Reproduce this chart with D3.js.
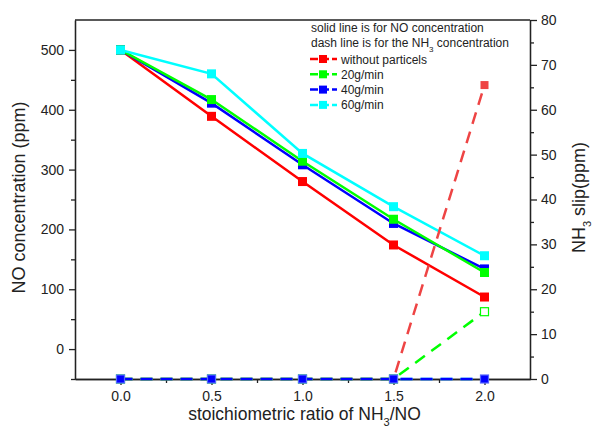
<!DOCTYPE html>
<html>
<head>
<meta charset="utf-8">
<script src="https://cdn.jsdelivr.net/npm/d3@7"></script>
<style>
  body { margin: 0; background: #fff; }
  svg text { font-family: "Liberation Sans", Arial, sans-serif; fill: #222; }
  .axis path, .axis line { stroke: #222; stroke-width: 1.3; }
</style>
</head>
<body>
<div id="chart"></div>
<script>
// stoichiometric ratios on the x axis
var ratios = [0, 0.5, 1.0, 1.5, 2.0];
var seriesNames = ["without particels", "20g/min", "40g/min", "60g/min"];
var seriesColors = ["#ff0000", "#00ff00", "#0000ff", "#00ffff"];

// NO concentration (ppm), solid lines
var noWithout = [500, 389, 280, 174, 87];
var no20 = [500, 417, 314, 217, 128];
var no40 = [500, 411, 308, 210, 134];
var no60 = [500, 460, 327, 238, 156];

// NH3 slip (ppm), dashed lines
var nh3Without = [0, 0, 0, 0, 65.5];
var nh320 = [0, 0, 0, 0, 15];
var nh340 = [0, 0, 0, 0, 0];
var nh360 = [0, 0, 0, 0, 0];

var xTicks = [0, 0.5, 1.0, 1.5, 2.0];
var leftTicks = [0, 100, 200, 300, 400, 500];
var rightTicks = [0, 10, 20, 30, 40, 50, 60, 70, 80];

var svgWidth = 594, svgHeight = 429;
var margin = {top: 20, right: 64, bottom: 50, left: 75};
var width = svgWidth - margin.left - margin.right;
var height = svgHeight - margin.top - margin.bottom;

var svg = d3.select("#chart").append("svg")
    .attr("width", svgWidth)
    .attr("height", svgHeight);

var g = svg.append("g")
    .attr("transform", `translate(${margin.left}, ${margin.top})`);

var x = d3.scaleLinear().domain([-0.25, 2.25]).range([0, width]);
var yLeft = d3.scaleLinear().domain([-50, 550]).range([height, 0]);
var yRight = d3.scaleLinear().domain([0, 80]).range([height, 0]);

// minor ticks first
g.append("g").attr("class", "axis")
    .attr("transform", `translate(0, ${height})`)
    .call(d3.axisBottom(x).tickValues([0.25, 0.75, 1.25, 1.75]).tickSize(4).tickSizeOuter(0).tickFormat(""));
g.append("g").attr("class", "axis")
    .call(d3.axisLeft(yLeft).tickValues([-50, 50, 150, 250, 350, 450]).tickSize(4).tickSizeOuter(0).tickFormat(""));
g.append("g").attr("class", "axis")
    .attr("transform", `translate(${width}, 0)`)
    .call(d3.axisRight(yRight).tickValues(d3.range(5, 80, 10)).tickSize(4).tickSizeOuter(0).tickFormat(""));

// major ticks
var xAxis = g.append("g").attr("class", "axis")
    .attr("transform", `translate(0, ${height})`)
    .call(d3.axisBottom(x).tickValues(xTicks).tickSize(6).tickSizeOuter(0).tickPadding(6).tickFormat(d3.format(".1f")));
var leftAxis = g.append("g").attr("class", "axis")
    .call(d3.axisLeft(yLeft).tickValues(leftTicks).tickSize(6).tickSizeOuter(0).tickPadding(5));
var rightAxis = g.append("g").attr("class", "axis")
    .attr("transform", `translate(${width}, 0)`)
    .call(d3.axisRight(yRight).tickValues(rightTicks).tickSize(7).tickSizeOuter(0).tickPadding(4));
g.selectAll(".axis text").style("font-size", "14px");

// top frame line
g.append("line")
    .attr("x1", 0).attr("x2", width).attr("y1", 0).attr("y2", 0)
    .attr("stroke", "#222").attr("stroke-width", 1.3);

// axis titles
svg.append("text")
    .attr("x", margin.left + width / 2 + 2)
    .attr("y", 420)
    .attr("text-anchor", "middle")
    .style("font-size", "17.5px")
    .html('stoichiometric ratio of NH<tspan baseline-shift="sub" font-size="11px">3</tspan>/NO');

svg.append("text")
    .attr("transform", `translate(25, ${margin.top + height / 2 - 2}) rotate(-90)`)
    .attr("text-anchor", "middle")
    .style("font-size", "18px")
    .text("NO concentration (ppm)");

svg.append("text")
    .attr("transform", `translate(585, ${margin.top + height / 2 - 2}) rotate(-90)`)
    .attr("text-anchor", "middle")
    .style("font-size", "18px")
    .html('NH<tspan baseline-shift="sub" font-size="11px">3</tspan> slip(ppm)');

var noSeries = [noWithout, no20, no40, no60];
var nh3Series = [nh3Without, nh320, nh340, nh360];

var lineLeft = d3.line().x((d, i) => x(ratios[i])).y(d => yLeft(d));
var lineRight = d3.line().x((d, i) => x(ratios[i])).y(d => yRight(d));

// solid NO lines, drawn red, blue, green, cyan
var drawOrder = [0, 2, 1, 3];
drawOrder.forEach(function(s) {
    g.append("path")
        .datum(noSeries[s])
        .attr("fill", "none")
        .attr("stroke", seriesColors[s])
        .attr("stroke-width", 2.5)
        .attr("d", lineLeft);
    g.selectAll(null)
        .data(noSeries[s])
        .enter()
        .append("rect")
        .attr("x", (d, i) => x(ratios[i]) - 4.5)
        .attr("y", d => yLeft(d) - 4.5)
        .attr("width", 9)
        .attr("height", 9)
        .attr("fill", seriesColors[s]);
});

// dashed NH3 lines
var dashOrder = [3, 0, 1, 2];
var dashColors = ["#ee4444", "#00ff00", "#0000ff", "#00ffff"];
dashOrder.forEach(function(s) {
    g.append("path")
        .datum(nh3Series[s])
        .attr("fill", "none")
        .attr("stroke", dashColors[s])
        .attr("stroke-width", 2.5)
        .attr("stroke-dasharray", "12,8")
        .attr("d", lineRight);
    g.selectAll(null)
        .data(nh3Series[s])
        .enter()
        .append("rect")
        .attr("x", (d, i) => x(ratios[i]) - 4)
        .attr("y", d => yRight(d) - 4)
        .attr("width", 8)
        .attr("height", 8)
        .attr("fill", s === 1 ? "#fff" : dashColors[s])
        .attr("stroke", s === 1 ? dashColors[s] : (s === 2 ? "#5566ff" : "none"))
        .attr("stroke-width", 1.2);
});

// legend
var legend = svg.append("g").attr("transform", "translate(310, 0)");
legend.append("text").attr("x", 1).attr("y", 32).style("font-size", "12px")
    .text("solid line is for NO concentration");
legend.append("text").attr("x", 1).attr("y", 47).style("font-size", "12px")
    .html('dash line is for the NH<tspan baseline-shift="sub" font-size="8px">3</tspan> concentration');

seriesNames.forEach(function(name, i) {
    var ly = 59 + i * 15.3;
    var item = legend.append("g").attr("transform", `translate(0, ${ly})`);
    item.append("line")
        .attr("x1", 0).attr("x2", 27).attr("y1", 0).attr("y2", 0)
        .attr("stroke", seriesColors[i])
        .attr("stroke-width", 2.5)
        .attr("stroke-dasharray", "8,3");
    item.append("rect")
        .attr("x", 9).attr("y", -4).attr("width", 8).attr("height", 8)
        .attr("fill", seriesColors[i]);
    item.append("text")
        .attr("x", 31).attr("y", 4.5)
        .style("font-size", "12px")
        .text(name);
});
</script>
</body>
</html>
